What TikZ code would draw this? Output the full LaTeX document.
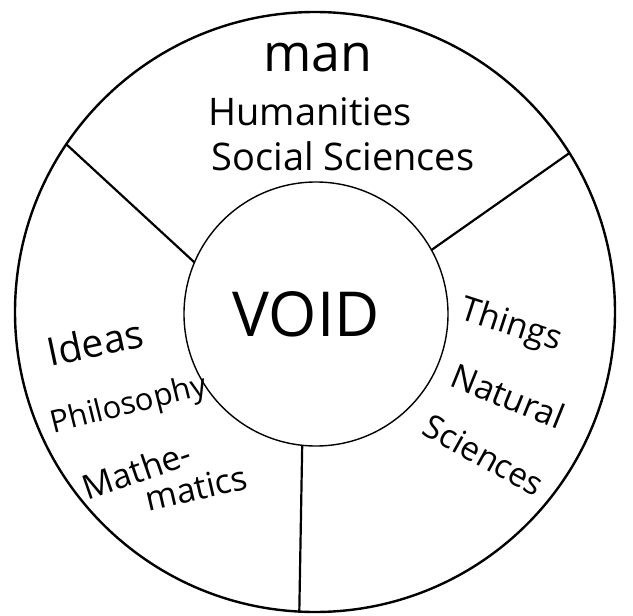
\documentclass[tikz,border=0pt]{standalone}
\usepackage{fontspec}
\setmainfont{Open Sans}
\begin{document}
\begin{tikzpicture}[x=1pt,y=-1pt,
  ring/.style={draw, circle, inner sep=0pt, outer sep=0pt},
  divider/.style={line width=2.2pt},
  lab/.style={inner sep=0pt, font=\fontsize{34}{36}\selectfont},
  toplab/.style={inner sep=0pt, font=\fontsize{38}{40}\selectfont}]
\useasboundingbox (0,0) rectangle (633,616);
\node[ring, line width=2.4pt, minimum size=600pt] (outer) at (315,312) {};
\node[ring, line width=1.4pt, minimum size=264pt] (void) at (316,314) {};
\node[inner sep=0pt, font=\fontsize{62}{64}\selectfont] (voidtext) at (306,314) {VOID};
\draw[divider] (void.157) -- (outer.146);
\draw[divider] (void.29) -- (outer.32);
\draw[divider] (void.264.4) -- (outer.267.7);
% top sector
\node[inner sep=0pt, font=\fontsize{52}{54}\selectfont] (man) at (318,58) {man};
\node[toplab] (hum) at (310,112) {Humanities};
\node[toplab] (soc) at (343,156) {Social Sciences};
% right sector
\node[lab, rotate=-18] (things) at (511,326) {Things};
\node[lab, rotate=-22] (nat) at (508,396) {Natural};
\node[lab, rotate=-29, font=\fontsize{33}{35}\selectfont] (sci) at (484,455) {Sciences};
% left sector
\node[lab, rotate=12, font=\fontsize{39}{41}\selectfont] (ideas) at (95,342) {Ideas};
\node[lab, rotate=14, font=\fontsize{31}{33}\selectfont] (phil) at (129,406) {Philosophy};
\node[lab, rotate=19] (mathe) at (137,470) {Mathe-};
\node[lab, rotate=13] (matics) at (196,488) {matics};
\end{tikzpicture}
\end{document}
